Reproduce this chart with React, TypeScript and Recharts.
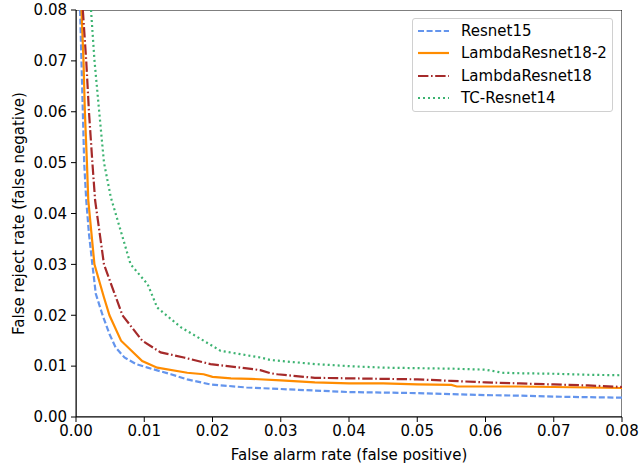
import { LineChart, Line, XAxis, YAxis, ReferenceArea } from "recharts";

const ticks = [0, 0.01, 0.02, 0.03, 0.04, 0.05, 0.06, 0.07, 0.08];

const resnet15X = [0.0006, 0.0008, 0.001, 0.0012, 0.0015, 0.0019, 0.0024, 0.0029, 0.0039, 0.0049, 0.0058, 0.0071, 0.0088, 0.0105, 0.0139, 0.0163, 0.0197, 0.025, 0.03, 0.035, 0.04, 0.045, 0.05, 0.055, 0.06, 0.065, 0.07, 0.075, 0.08];
const resnet15Y = [0.08, 0.07, 0.06, 0.05, 0.0426, 0.036, 0.03, 0.0242, 0.02, 0.0163, 0.0137, 0.0117, 0.0104, 0.0097, 0.0084, 0.0074, 0.0064, 0.0058, 0.0055, 0.0052, 0.0049, 0.0048, 0.0047, 0.0045, 0.0043, 0.0042, 0.004, 0.0039, 0.0038];

const lambda2X = [0.0008, 0.0011, 0.0013, 0.0016, 0.0018, 0.0027, 0.0041, 0.0049, 0.0066, 0.0097, 0.0119, 0.0163, 0.0187, 0.02, 0.0227, 0.0256, 0.03, 0.035, 0.04, 0.045, 0.05, 0.055, 0.0558, 0.06, 0.065, 0.07, 0.075, 0.08];
const lambda2Y = [0.08, 0.07, 0.06, 0.05, 0.0426, 0.03, 0.0235, 0.02, 0.015, 0.011, 0.0097, 0.0087, 0.0084, 0.0079, 0.0076, 0.0075, 0.0072, 0.0068, 0.0066, 0.0066, 0.0064, 0.0063, 0.006, 0.006, 0.006, 0.0059, 0.0058, 0.0057];

const lambdaX = [0.001, 0.0015, 0.0019, 0.0024, 0.0028, 0.0041, 0.0068, 0.0097, 0.0124, 0.0158, 0.0197, 0.026, 0.027, 0.0285, 0.0295, 0.035, 0.04, 0.045, 0.05, 0.055, 0.06, 0.065, 0.07, 0.075, 0.08];
const lambdaY = [0.08, 0.07, 0.06, 0.05, 0.0426, 0.03, 0.02, 0.015, 0.0127, 0.0117, 0.0104, 0.0094, 0.0092, 0.0086, 0.0084, 0.0077, 0.0076, 0.0075, 0.0074, 0.0071, 0.0068, 0.0066, 0.0064, 0.0062, 0.0059];

const tcX = [0.0022, 0.0027, 0.0034, 0.0041, 0.0051, 0.008, 0.0105, 0.0119, 0.0154, 0.0187, 0.0212, 0.027, 0.0285, 0.035, 0.04, 0.045, 0.05, 0.055, 0.06, 0.0625, 0.065, 0.07, 0.075, 0.08];
const tcY = [0.08, 0.0702, 0.06, 0.05, 0.0432, 0.03, 0.0261, 0.0215, 0.0176, 0.015, 0.013, 0.0117, 0.0112, 0.0104, 0.01, 0.0097, 0.0096, 0.0095, 0.0093, 0.0087, 0.0086, 0.0085, 0.0083, 0.0082];

const toRows = (xs: number[], ys: number[]) => xs.map((x, i) => ({ x, y: ys[i] }));

const series = [
  { name: "Resnet15", rows: toRows(resnet15X, resnet15Y), color: "#6495ED", dash: "6 2.6" },
  { name: "LambdaResnet18-2", rows: toRows(lambda2X, lambda2Y), color: "#FF8C00", dash: undefined },
  { name: "LambdaResnet18", rows: toRows(lambdaX, lambdaY), color: "#A52A2A", dash: "10.4 2.6 1.6 2.6" },
  { name: "TC-Resnet14", rows: toRows(tcX, tcY), color: "#3CB371", dash: "2 3" },
];

const font = "'DejaVu Sans', sans-serif";
const fs = 15;

function LegendBox() {
  return (
    <div
      style={{
        position: "absolute",
        left: 412,
        top: 18,
        width: 201,
        height: 94,
        boxSizing: "border-box",
        border: "1px solid #d0d0d0",
        borderRadius: 3,
        background: "rgba(255,255,255,0.8)",
        padding: "1px 0 0 0",
        fontFamily: font,
        fontSize: fs,
        color: "#000",
      }}
    >
      {series.map((s) => (
        <div key={s.name} style={{ display: "flex", alignItems: "center", height: 22.3 }}>
          <svg width={48} height={10} style={{ flex: "none" }}>
            <line x1={5} x2={36} y1={5} y2={5} stroke={s.color} strokeWidth={2.2} strokeDasharray={s.dash} />
          </svg>
          <span>{s.name}</span>
        </div>
      ))}
    </div>
  );
}

export default function App() {
  return (
    <div style={{ position: "absolute", left: 0, top: 0, width: 643, height: 463, background: "#fff" }}>
      <LineChart width={643} height={463} margin={{ top: 10, right: 21, left: 0, bottom: 0 }}>
        <XAxis
          dataKey="x"
          type="number"
          domain={[0, 0.08]}
          ticks={ticks}
          allowDataOverflow
          tickFormatter={(v: number) => v.toFixed(2)}
          height={46}
          tickSize={5}
          tickMargin={3}
          stroke="#000"
          tick={{ fill: "#000", fontSize: fs, fontFamily: font }}
          label={{
            content: (p: any) => (
              <text
                x={p.viewBox.x + p.viewBox.width / 2}
                y={p.viewBox.y + 38}
                textAnchor="middle"
                dominantBaseline="central"
                fontSize={fs}
                fontFamily={font}
                fill="#000"
              >
                False alarm rate (false positive)
              </text>
            ),
          }}
        />
        <YAxis
          type="number"
          domain={[0, 0.08]}
          ticks={ticks}
          allowDataOverflow
          tickFormatter={(v: number) => v.toFixed(2)}
          width={76}
          tickSize={5}
          tickMargin={4}
          stroke="#000"
          tick={{ fill: "#000", fontSize: fs, fontFamily: font }}
          label={{
            content: (p: any) => {
              const cx = p.viewBox.x + 19;
              const cy = p.viewBox.y + p.viewBox.height / 2;
              return (
                <text
                  x={cx}
                  y={cy}
                  transform={`rotate(-90 ${cx} ${cy})`}
                  textAnchor="middle"
                  dominantBaseline="central"
                  fontSize={fs}
                  fontFamily={font}
                  fill="#000"
                >
                  False reject rate (false negative)
                </text>
              );
            },
          }}
        />
        <ReferenceArea x1={0} x2={0.08} y1={0} y2={0.08} fill="none" stroke="#000" strokeWidth={1} ifOverflow="hidden" />
        {series.map((s) => (
          <Line
            key={s.name}
            data={s.rows}
            dataKey="y"
            name={s.name}
            type="linear"
            stroke={s.color}
            strokeWidth={2.2}
            strokeDasharray={s.dash}
            dot={false}
            activeDot={false}
            isAnimationActive={false}
          />
        ))}
      </LineChart>
      <LegendBox />
    </div>
  );
}
